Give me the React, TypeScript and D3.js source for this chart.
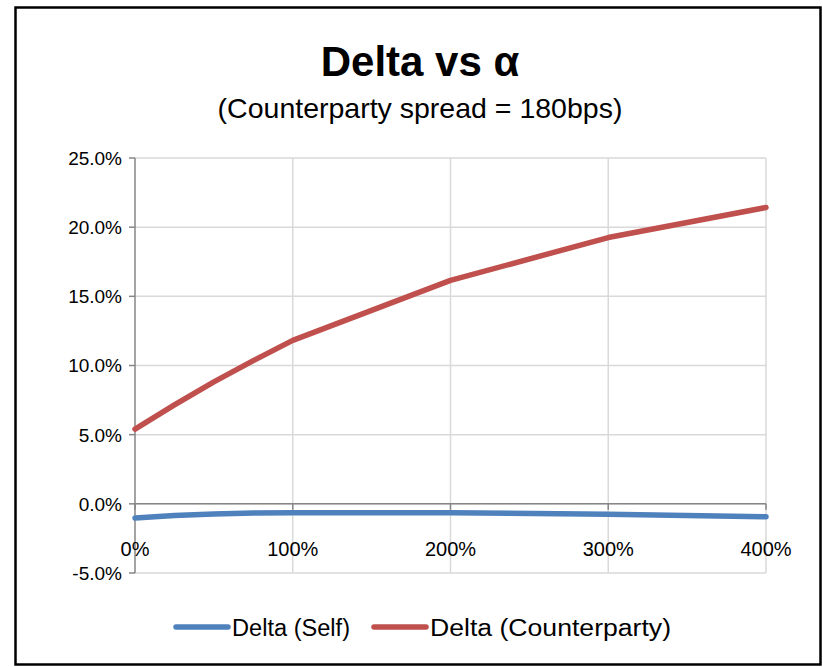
import { scaleLinear, line } from "d3";

const width = 823;
const height = 667;

// alpha values (multiples)
const alphas = [0, 0.25, 0.5, 0.75, 1, 2, 3, 4];
const deltaSelf = [-0.0103, -0.0085, -0.0074, -0.0067, -0.0064, -0.0064, -0.0076, -0.0093];
const deltaCpty = [0.054, 0.0715, 0.0882, 0.1035, 0.1182, 0.1615, 0.1925, 0.2142];

const xTicks = [0, 1, 2, 3, 4];
const yTicks = [-0.05, 0, 0.05, 0.1, 0.15, 0.2, 0.25];

const seriesNames = ["Delta (Self)", "Delta (Counterparty)"];
const seriesColors = ["#4F81BD", "#C0504D"];
const legendTextLen = [118, 241];

const FONT = "'Liberation Sans', Arial, sans-serif";
const PLOT = { left: 135, right: 766, top: 158, bottom: 573 };

export default function App() {
  const x = scaleLinear().domain([0, 4]).range([PLOT.left, PLOT.right]);
  const y = scaleLinear().domain([-0.05, 0.25]).range([PLOT.bottom, PLOT.top]);

  const mk = line<number>()
    .x((_, i) => x(alphas[i]))
    .y((d) => y(d));

  const series = [deltaSelf, deltaCpty];

  const fmtY = (v: number) => (v * 100).toFixed(1) + "%";
  const fmtX = (v: number) => Math.round(v * 100) + "%";

  return (
    <svg
      width={width}
      height={height}
      viewBox={`0 0 ${width} ${height}`}
      style={{ position: "absolute", left: 0, top: 0, fontFamily: FONT }}
    >
      <rect width={width} height={height} fill="#fff" />
      <rect x={15.5} y={7.5} width={805} height={657} fill="none" stroke="#000" strokeWidth={2.5} />

      <text x={420} y={76} textAnchor="middle" fontSize={42} fontWeight="bold" fill="#000">
        Delta vs α
      </text>
      <text x={420} y={118} textAnchor="middle" fontSize={28.5} fill="#000">
        (Counterparty spread = 180bps)
      </text>

      {/* horizontal gridlines */}
      {yTicks.map((t, i) => (
        <line key={"hg" + i} x1={PLOT.left} x2={PLOT.right} y1={y(t)} y2={y(t)} stroke="#d9d9d9" strokeWidth={1.5} />
      ))}
      {/* vertical gridlines */}
      {xTicks.slice(1).map((t, i) => (
        <line key={"vg" + i} x1={x(t)} x2={x(t)} y1={PLOT.top} y2={PLOT.bottom} stroke="#d9d9d9" strokeWidth={1.5} />
      ))}

      {/* y axis */}
      <line x1={PLOT.left} x2={PLOT.left} y1={PLOT.top} y2={PLOT.bottom} stroke="#868686" strokeWidth={1.5} />
      {yTicks.map((t, i) => (
        <g key={"yt" + i}>
          <line x1={PLOT.left - 6} x2={PLOT.left} y1={y(t)} y2={y(t)} stroke="#868686" strokeWidth={1.5} />
          <text x={122} y={y(t)} dy="0.36em" textAnchor="end" fontSize={19} fill="#000">
            {fmtY(t)}
          </text>
        </g>
      ))}

      {/* x axis at zero */}
      <line x1={PLOT.left} x2={PLOT.right} y1={y(0)} y2={y(0)} stroke="#868686" strokeWidth={1.5} />
      {xTicks.map((t, i) => (
        <g key={"xt" + i}>
          <line x1={x(t)} x2={x(t)} y1={y(0)} y2={y(0) + 6} stroke="#868686" strokeWidth={1.5} />
          <text x={x(t)} y={y(0) + 52} textAnchor="middle" fontSize={20} fill="#000">
            {fmtX(t)}
          </text>
        </g>
      ))}

      {series.map((s, i) => (
        <path
          key={"s" + i}
          d={mk(s) || ""}
          fill="none"
          stroke={seriesColors[i]}
          strokeWidth={5.5}
          strokeLinecap="round"
          strokeLinejoin="round"
        />
      ))}

      {/* legend */}
      {seriesNames.map((name, i) => {
        const lx = i === 0 ? 176 : 374;
        return (
          <g key={"lg" + i}>
            <line x1={lx} x2={lx + 52} y1={627} y2={627} stroke={seriesColors[i]} strokeWidth={5.5} strokeLinecap="round" />
            <text
              x={lx + 56}
              y={636}
              fontSize={23}
              fill="#000"
              textLength={legendTextLen[i]}
              lengthAdjust="spacingAndGlyphs"
            >
              {name}
            </text>
          </g>
        );
      })}
    </svg>
  );
}
